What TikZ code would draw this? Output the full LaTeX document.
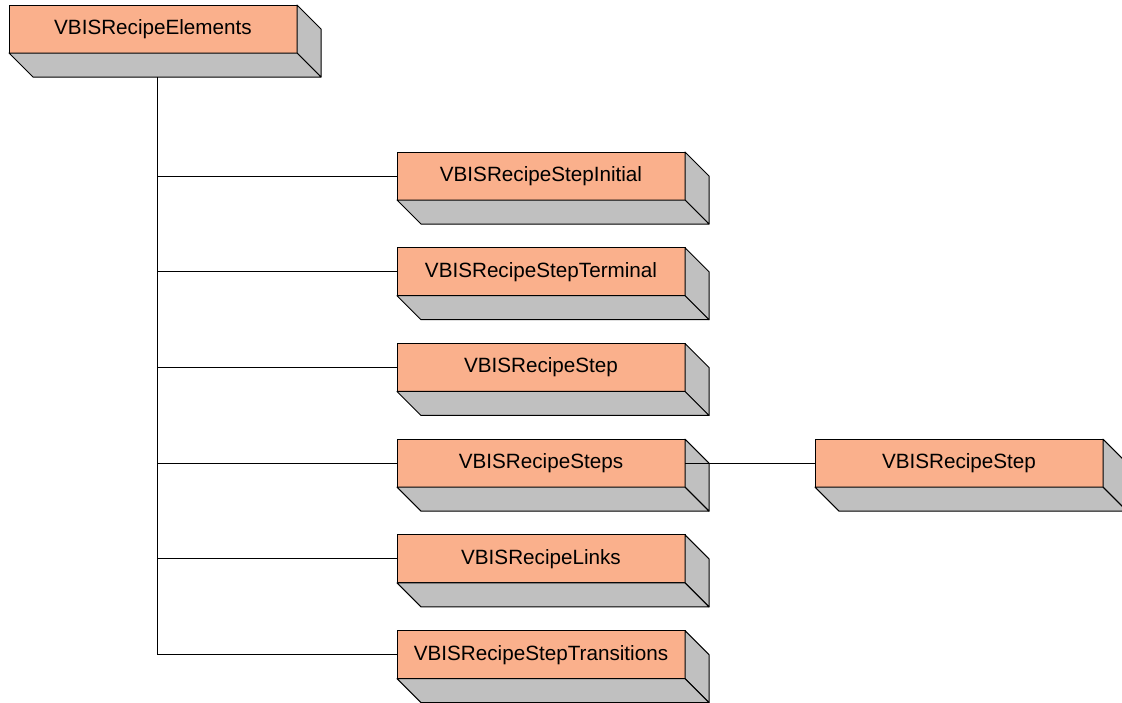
\documentclass[tikz,border=0pt]{standalone}
\usepackage{fontspec}
\setmainfont{Liberation Sans}
\usetikzlibrary{positioning,calc}
\definecolor{recipeorange}{RGB}{250,176,140}
\definecolor{sidegray}{RGB}{192,192,192}

\begin{document}
\begin{tikzpicture}[x=0.75pt,y=-0.75pt,node distance=35.8pt]
	\tikzstyle{every node}=[font=\fontsize{15.5}{18}\selectfont]
	\tikzstyle{recipe}=[draw,fill=recipeorange,rectangle,minimum width=216pt,
	minimum height=36pt,inner sep=0pt,outer sep=0pt,line width=0.75pt]
	\tikzstyle{depth}=[draw,fill=sidegray,line width=0.75pt,line join=round]
	\useasboundingbox (0,0) rectangle (1122,703);
	\node[recipe] (elements) at (153,29) {VBISRecipeElements};
	\node[recipe] (initial) at (541,176) {VBISRecipeStepInitial};
	\node[recipe,below=of initial] (terminal) {VBISRecipeStepTerminal};
	\node[recipe,below=of terminal] (step) {VBISRecipeStep};
	\node[recipe,below=of step] (steps) {VBISRecipeSteps};
	\node[recipe,below=of steps] (links) {VBISRecipeLinks};
	\node[recipe,below=of links] (transitions) {VBISRecipeStepTransitions};
	\node[recipe,right=97.5pt of steps] (substep) {VBISRecipeStep};
	% sides of the boxes
	\foreach \n in {elements,initial,terminal,step,steps,links,transitions,substep} {
		\draw[depth] (\n.north east) -- ++(24,24) -- ++(0,48) -- (\n.south east) -- cycle;
		\draw[depth] (\n.south west) -- ++(24,24) -- ++(288,0) -- (\n.south east) -- cycle;
	}
	% connectors
	\coordinate (trunk) at ($(elements.south)+(4,24)$);
	\foreach \n in {initial,terminal,step,steps,links,transitions}
		\draw[line width=0.75pt] (trunk) |- (\n.west);
	\draw[line width=0.75pt] (steps.east) -- (substep.west);
\end{tikzpicture}
\end{document}
